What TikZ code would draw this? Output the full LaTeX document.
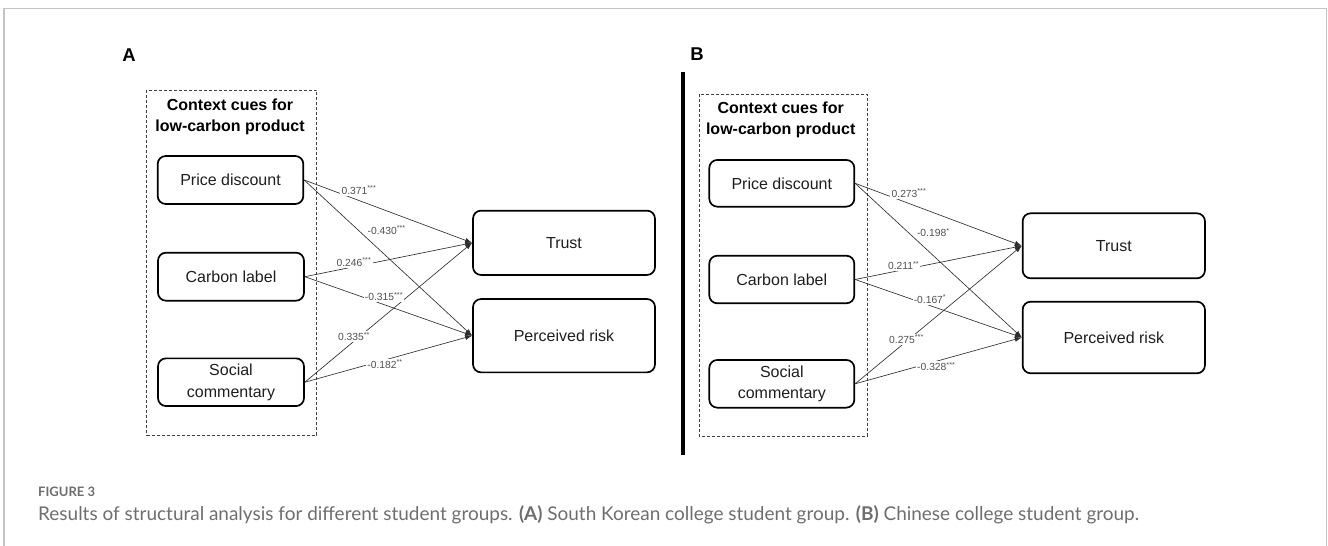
\documentclass[tikz,border=0pt]{standalone}
\usepackage{fontspec}
\setmainfont{Liberation Sans}
\newfontfamily\capfont{Lato}
\usetikzlibrary{arrows.meta}
\definecolor{framegray}{HTML}{C4C4C4}
\definecolor{capgray}{HTML}{6E6E6E}
\definecolor{lblgray}{HTML}{505050}
\definecolor{linegray}{HTML}{2E2E2E}
\definecolor{txtgray}{HTML}{1E1E1E}
\begin{document}
\begin{tikzpicture}[x=1pt,y=-1pt,
  box/.style={draw=black, line width=1.7pt, rounded corners=8pt, inner sep=0pt,
    font=\fontsize{16}{21.5}\selectfont, text=txtgray, align=center},
  grp/.style={draw=black!75, dash pattern=on 3pt off 2pt, line width=0.7pt},
  grptitle/.style={font=\bfseries\fontsize{16}{21}\selectfont, align=center, inner sep=0pt},
  panel/.style={font=\bfseries\fontsize{18.5}{22}\selectfont, inner sep=0pt},
  arr/.style={draw=linegray, line width=0.65pt, -{Latex[length=7pt,width=5pt]}},
  lbl/.style={fill=white, inner sep=1.2pt, text=lblgray, font=\fontsize{10.3}{12}\selectfont},
  captext/.style={anchor=west, inner sep=0pt, text=capgray}
]
\useasboundingbox (0,0) rectangle (1328,546);
% outer frame
\draw[framegray, line width=1.5pt] (4,546) -- (4,8.5) -- (1326.5,8.5) -- (1326.5,546);

% ---------------- Panel A ----------------
\node[panel] (labA) at (129,55) {A};
\draw[grp] (146.7,90) rectangle (316.7,435);
\node[grptitle] (titA) at (230,116.5) {Context cues for\\low-carbon product};
\node[box, minimum width=145.6pt, minimum height=48pt] (pdA) at (230.5,180) {Price discount};
\node[box, minimum width=146pt, minimum height=48pt] (clA) at (231,276.7) {Carbon label};
\node[box, minimum width=146pt, minimum height=47.7pt] (scA) at (231,382.2) {Social\\commentary};
\node[box, minimum width=182pt, minimum height=64.3pt] (tA) at (564,242.8) {Trust};
\node[box, minimum width=182pt, minimum height=73.3pt] (rA) at (564,335.7) {Perceived risk};

\draw[arr] (pdA.east) -- (tA.west);
\draw[arr] (pdA.east) -- (rA.west);
\draw[arr] (clA.east) -- (tA.west);
\draw[arr] (clA.east) -- (rA.west);
\draw[arr] (scA.east) -- (tA.west);
\draw[arr] (scA.east) -- (rA.west);

\node[lbl] (a1) at (359,190) {0.371\textsuperscript{***}};
\node[lbl] (a2) at (386.7,230) {-0.430\textsuperscript{***}};
\node[lbl] (a3) at (354,262.3) {0.246\textsuperscript{***}};
\node[lbl] (a4) at (384,296.7) {-0.315\textsuperscript{***}};
\node[lbl] (a5) at (354,336.7) {0.335\textsuperscript{**}};
\node[lbl] (a6) at (385,364.3) {-0.182\textsuperscript{**}};

% ---------------- Panel B ----------------
\node[panel] (labB) at (697,54) {B};
\draw[line width=4pt, black] (683.3,71.7) -- (683.3,455);
\draw[grp] (699.3,94) rectangle (867.3,436);
\node[grptitle] (titB) at (780.7,120) {Context cues for\\low-carbon product};
\node[box, minimum width=145pt, minimum height=46.7pt] (pdB) at (781.8,183.3) {Price discount};
\node[box, minimum width=145pt, minimum height=47.6pt] (clB) at (781.8,279.5) {Carbon label};
\node[box, minimum width=145pt, minimum height=47.7pt] (scB) at (781.8,383.8) {Social\\commentary};
\node[box, minimum width=182.3pt, minimum height=65pt] (tB) at (1113.8,245.8) {Trust};
\node[box, minimum width=182.3pt, minimum height=71.6pt] (rB) at (1113.8,337.5) {Perceived risk};

\draw[arr] (pdB.east) -- (tB.west);
\draw[arr] (pdB.east) -- (rB.west);
\draw[arr] (clB.east) -- (tB.west);
\draw[arr] (clB.east) -- (rB.west);
\draw[arr] (scB.east) -- (tB.west);
\draw[arr] (scB.east) -- (rB.west);

\node[lbl] (b1) at (909,193.3) {0.273\textsuperscript{***}};
\node[lbl] (b2) at (933.3,232.7) {-0.198\textsuperscript{*}};
\node[lbl] (b3) at (903.7,265.7) {0.211\textsuperscript{**}};
\node[lbl] (b4) at (930,299) {-0.167\textsuperscript{*}};
\node[lbl] (b5) at (906.5,339.3) {0.275\textsuperscript{***}};
\node[lbl] (b6) at (936.3,366.7) {-0.328\textsuperscript{***}};

% ---------------- Caption ----------------
\node[captext, font=\capfont\bfseries\fontsize{13}{15}\selectfont] (fig) at (38,491.7) {FIGURE 3};
\node[captext, font=\capfont\fontsize{16}{19}\selectfont] (captxt) at (38,515)
  {\resizebox{1101pt}{!}{Results of structural analysis for different student groups. \textbf{(A)} South Korean college student group. \textbf{(B)} Chinese college student group.}};
\end{tikzpicture}
\end{document}
